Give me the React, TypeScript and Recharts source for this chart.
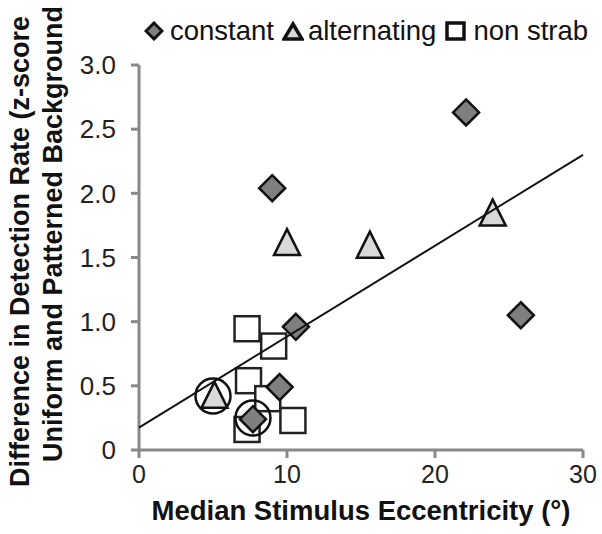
import { ScatterChart, Scatter, XAxis, YAxis, Legend } from 'recharts';

const FONT = '"Liberation Sans", Arial, Helvetica, sans-serif';

// strabismus groups, x = median eccentricity (deg), y = z-score difference
const constantX = [9.0, 22.1, 25.8, 10.6, 9.5, 7.7];
const constantY = [2.04, 2.63, 1.05, 0.96, 0.49, 0.24];
const alternatingX = [5.1, 10.0, 15.6, 23.9];
const alternatingY = [0.43, 1.62, 1.6, 1.85];
const nonStrabX = [7.3, 9.1, 7.4, 8.7, 10.4, 7.3];
const nonStrabY = [0.945, 0.81, 0.54, 0.4, 0.23, 0.16];
// circled points
const circledX = [5.0, 7.7];
const circledY = [0.42, 0.25];
// regression line end points
const fitX = [0, 30];
const fitY = [0.175, 2.3];

const xTicks = [0, 10, 20, 30];
const yTicks = [0, 0.5, 1, 1.5, 2, 2.5, 3];

const toPoints = (xs: number[], ys: number[]) => xs.map((x, i) => ({ x, y: ys[i] }));

const Diamond = (p: any) => {
  const { cx, cy } = p;
  const r = 13;
  return (
    <path
      d={`M${cx},${cy - r}L${cx + r},${cy}L${cx},${cy + r}L${cx - r},${cy}Z`}
      fill="#7f7f7f"
      stroke="#111"
      strokeWidth={2.5}
    />
  );
};

const Triangle = (p: any) => {
  const { cx, cy } = p;
  const h = 13;
  return (
    <path
      d={`M${cx},${cy - h}L${cx + h},${cy + h}L${cx - h},${cy + h}Z`}
      fill="#d9d9d9"
      stroke="#111"
      strokeWidth={2.5}
    />
  );
};

const Square = (p: any) => {
  const { cx, cy } = p;
  return <rect x={cx - 12.5} y={cy - 12.5} width={25} height={25} fill="#fff" stroke="#222" strokeWidth={2.5} />;
};

const Ring = (p: any) => <circle cx={p.cx} cy={p.cy} r={17.5} fill="none" stroke="#111" strokeWidth={2.5} />;

const NoDot = () => <g />;

function LegendContent() {
  const txt = { fontSize: 27.5, color: '#111', lineHeight: '30px' };
  return (
    <div style={{ display: 'flex', alignItems: 'center', fontFamily: FONT, whiteSpace: 'nowrap' }}>
      <svg width={20} height={20} style={{ marginRight: 6 }}>
        <path d="M10,2L18,10L10,18L2,10Z" fill="#7f7f7f" stroke="#111" strokeWidth={3} />
      </svg>
      <span style={txt}>constant</span>
      <svg width={22} height={20} style={{ marginLeft: 8, marginRight: 4 }}>
        <path d="M11,3L20,18L2,18Z" fill="#d9d9d9" stroke="#111" strokeWidth={3.5} />
      </svg>
      <span style={txt}>alternating</span>
      <svg width={22} height={20} style={{ marginLeft: 9, marginRight: 6 }}>
        <rect x={2} y={2} width={17} height={16} fill="#fff" stroke="#111" strokeWidth={3.5} />
      </svg>
      <span style={txt}>non strab</span>
    </div>
  );
}

const XTitle = (props: any) => {
  const { viewBox } = props;
  return (
    <text
      x={viewBox.x + viewBox.width / 2}
      y={viewBox.y + 70}
      textAnchor="middle"
      fontFamily={FONT}
      fontWeight="bold"
      fontSize={27.5}
      fill="#111"
    >
      Median Stimulus Eccentricity (°)
    </text>
  );
};

const YTitle = () => (
  <g fontFamily={FONT} fontWeight="bold" fontSize={27} fill="#111">
    <text x={29} y={487} transform="rotate(-90 29 487)" textAnchor="start">
      Difference in Detection Rate (z-score
    </text>
    <text x={62} y={462} transform="rotate(-90 62 462)" textAnchor="start">
      Uniform and Patterned Background
    </text>
  </g>
);

export default function App() {
  const axisStroke = { stroke: '#888', strokeWidth: 3 };
  return (
    <div style={{ position: 'absolute', left: 0, top: 0, width: 602, height: 534, background: '#fff' }}>
      <ScatterChart width={602} height={534} margin={{ top: 35, right: 19, bottom: 0, left: 0 }}>
        <XAxis
          type="number"
          dataKey="x"
          domain={[0, 30]}
          ticks={xTicks}
          height={84}
          axisLine={axisStroke}
          tickLine={axisStroke}
          tickSize={8}
          tickMargin={7}
          tick={{ fill: '#222', fontSize: 25, fontFamily: FONT }}
          label={<XTitle />}
        />
        <YAxis
          type="number"
          dataKey="y"
          domain={[0, 3]}
          ticks={yTicks}
          width={139}
          axisLine={axisStroke}
          tickLine={axisStroke}
          tickSize={8}
          tickMargin={15}
          tickFormatter={(v: number) => (v === 0 ? '0' : v.toFixed(1))}
          tick={{ fill: '#222', fontSize: 26, fontFamily: FONT }}
          label={<YTitle />}
        />
        <Legend
          layout="vertical"
          align="center"
          verticalAlign="top"
          content={<LegendContent />}
          wrapperStyle={{ top: 16, left: 144, width: 470 }}
        />
        <Scatter data={toPoints(nonStrabX, nonStrabY)} shape={Square} isAnimationActive={false} />
        <Scatter data={toPoints(alternatingX, alternatingY)} shape={Triangle} isAnimationActive={false} />
        <Scatter data={toPoints(constantX, constantY)} shape={Diamond} isAnimationActive={false} />
        <Scatter data={toPoints(circledX, circledY)} shape={Ring} isAnimationActive={false} />
        <Scatter
          data={toPoints(fitX, fitY)}
          shape={NoDot}
          line={{ stroke: '#111', strokeWidth: 2 }}
          lineType="joint"
          isAnimationActive={false}
        />
      </ScatterChart>
    </div>
  );
}
